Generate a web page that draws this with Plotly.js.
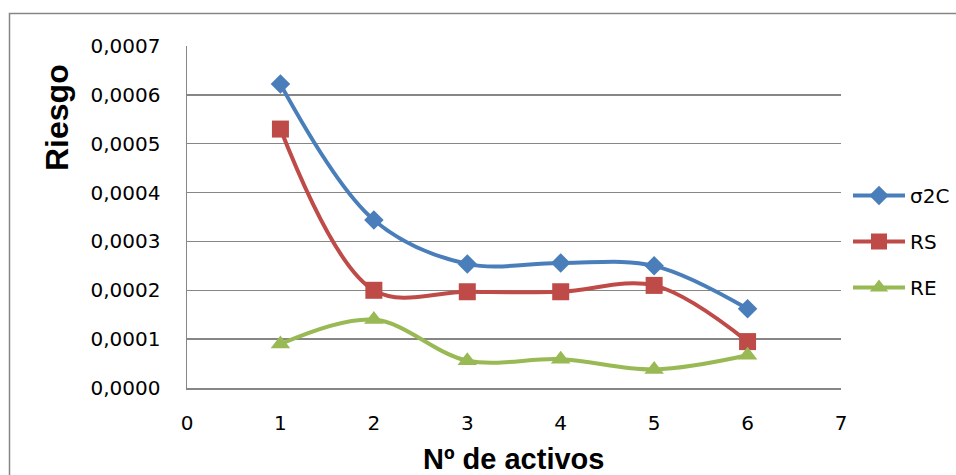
<!DOCTYPE html>
<html><head><meta charset="utf-8">
<script src="https://cdn.plot.ly/plotly-3.0.1.min.js"></script>
<style>body{margin:0;background:#fff}#c{width:956px;height:475px}</style>
</head><body><div id="c"></div>
<script>
const activos = [1, 2, 3, 4, 5, 6];
const sigma2C = [0.000622, 0.000344, 0.000254, 0.000256, 0.000250, 0.000162];
const RS = [0.000530, 0.000200, 0.000197, 0.000197, 0.000210, 0.000095];
const RE = [0.000090, 0.000140, 0.000056, 0.000059, 0.000038, 0.000067];
const seriesNames = ['σ2C', 'RS', 'RE'];
const yTicks = [0, 0.0001, 0.0002, 0.0003, 0.0004, 0.0005, 0.0006, 0.0007];
const yTickText = ['0,0000','0,0001','0,0002','0,0003','0,0004','0,0005','0,0006','0,0007'];
const xTicks = [0,1,2,3,4,5,6,7];

const W=956,H=475, L=187, R=115, T=46, B=87;
const pw=W-L-R, ph=H-T-B;
const px=x=>(x-L)/pw, py=y=>(H-B-y)/ph;
const font="'DejaVu Sans', sans-serif";
const bold="'Liberation Sans', Arial, sans-serif";

const mk=(y,name,color,symbol,size,g)=>({
  x:activos,y:y,name:name,type:'scatter',mode:'lines+markers',legendgroup:g,
  line:{color:color,width:4,shape:'spline',smoothing:1},
  marker:{color:color,symbol:symbol,size:size}
});
const data=[
  mk(sigma2C,seriesNames[0],'#4A7EBB','diamond',15,'a'),
  mk(RS,seriesNames[1],'#BE4B48','square',17,'b'),
  mk(RE,seriesNames[2],'#98B954','triangle-up',17,'c')
];
const layout={
  width:W,height:H,margin:{l:L,r:R,t:T,b:B,autoexpand:false},
  paper_bgcolor:'#fff',plot_bgcolor:'#fff',
  font:{family:font,size:20,color:'#000'},
  xaxis:{range:[0,7],tickvals:xTicks,ticktext:xTicks.map(String),showgrid:false,zeroline:false,automargin:false,
    showline:true,linecolor:'#868686',linewidth:1.5,ticks:'',ticklabelstandoff:16,fixedrange:true},
  yaxis:{range:[0,0.0007],tickvals:yTicks,ticktext:yTickText,showgrid:true,gridcolor:'#868686',gridwidth:1.5,automargin:false,
    zeroline:false,showline:true,linecolor:'#868686',linewidth:1.5,ticks:'',ticklabelstandoff:21,fixedrange:true},
  showlegend:true,
  legend:{x:px(848),y:py(176),xanchor:'left',yanchor:'top',traceorder:'grouped',tracegroupgap:17,itemwidth:52,
    font:{family:font,size:20},bgcolor:'rgba(0,0,0,0)'},
  shapes:[{type:'rect',xref:'paper',yref:'paper',x0:px(9.5),x1:px(1000),y0:py(13.5),y1:py(520),
    line:{color:'#868686',width:1.5},fillcolor:'rgba(0,0,0,0)',layer:'below'}],
  annotations:[
    {text:'<b>Riesgo</b>',xref:'paper',yref:'paper',x:px(57),y:py(118),textangle:-90,showarrow:false,
      font:{family:bold,size:32,color:'#000'},xanchor:'center',yanchor:'middle'},
    {text:'<b>Nº de activos</b>',xref:'paper',yref:'paper',x:px(513),y:py(459),showarrow:false,
      font:{family:bold,size:29,color:'#000'},xanchor:'center',yanchor:'middle'}
  ]
};
Plotly.newPlot('c',data,layout,{displayModeBar:false,staticPlot:true});
</script></body></html>
